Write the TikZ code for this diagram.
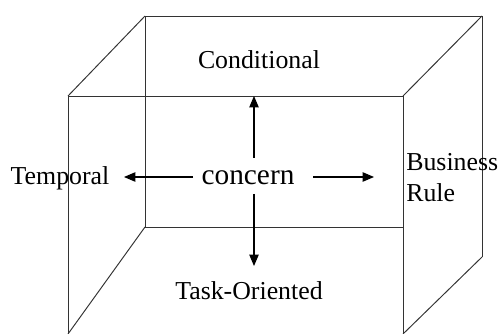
\documentclass[tikz,border=0pt]{standalone}
\usepackage{fontspec}
\setmainfont{Liberation Serif}
\usetikzlibrary{arrows.meta}
\begin{document}
\begin{tikzpicture}[x=0.02cm,y=-0.02cm,
  edge/.style={draw=black!80,line width=0.55pt},
  arr/.style={draw=black,line width=0.6pt,-{Triangle[length=2.3mm,width=1.9mm]}},
  lbl/.style={font=\fontsize{14.7}{17.6}\selectfont,inner sep=0pt}]
\useasboundingbox (0,0) rectangle (500,334);
% box corners
\coordinate (bTL) at (145,16);
\coordinate (bTR) at (482,16);
\coordinate (bBR) at (482,257);
\coordinate (bBL) at (145,227);
\coordinate (bBM) at (403,227);
\coordinate (fTL) at (68,96);
\coordinate (fTR) at (403,96);
\coordinate (fBR) at (403,334);
\coordinate (fBL) at (68,334);
% back
\draw[edge] (bBL) -- (bTL) -- (bTR) -- (bBR);
\draw[edge] (bBL) -- (bBM);
% depth edges
\draw[edge] (bTL) -- (fTL);
\draw[edge] (bTR) -- (fTR);
\draw[edge] (bBR) -- (fBR);
\draw[edge] (bBL) -- (fBL);
% front
\draw[edge] (fBL) -- (fTL) -- (fTR) -- (fBR);
% labels
\node[lbl,font=\fontsize{16.7}{20}\selectfont] (concern) at (248,178) {concern};
\node[lbl] (cond) at (259,60) {Conditional};
\node[lbl] (task) at (249,291) {Task-Oriented};
\node[lbl] (temp) at (60,178) {Temporal};
\node[lbl,align=left,anchor=west] (bus) at (406,178) {Business\\Rule};
% arrows
\coordinate (upS) at (254,158);
\coordinate (upE) at (254,96);
\coordinate (dnS) at (254,194);
\coordinate (dnE) at (254,266);
\coordinate (lS) at (193,177);
\coordinate (lE) at (124,177);
\coordinate (rS) at (313,177);
\coordinate (rE) at (374,177);
\draw[arr] (upS) -- (upE);
\draw[arr] (dnS) -- (dnE);
\draw[arr] (lS) -- (lE);
\draw[arr] (rS) -- (rE);
\end{tikzpicture}
\end{document}
